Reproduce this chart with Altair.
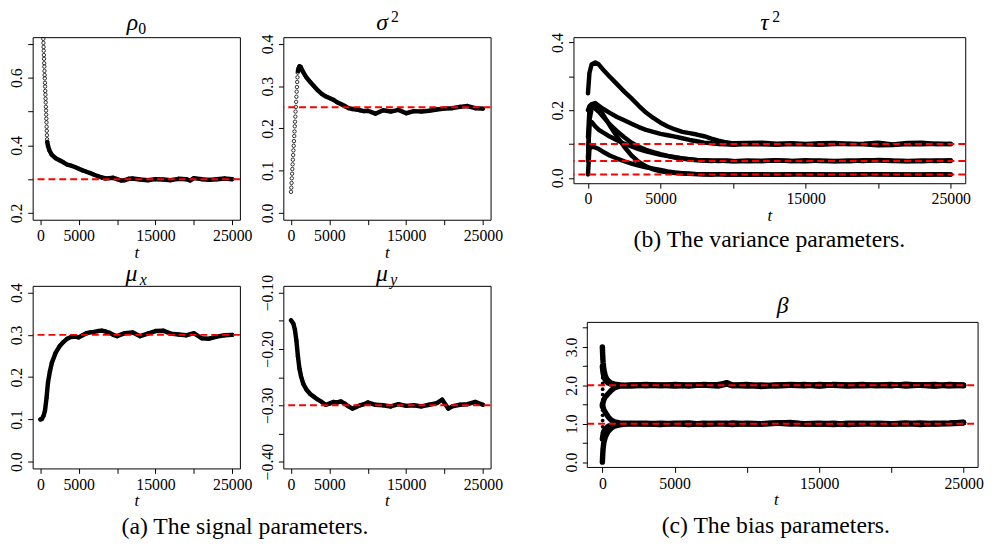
import json
import altair as alt
import pandas as pd

FONT = "Liberation Serif"
XDOM = [-1000, 26000]
XDOM_BETA = [-2000, 26000]
XTICKS = [0, 5000, 10000, 15000, 20000, 25000]
XSHOW = [0, 5000, 15000, 25000]

# ---------------- signal parameters ----------------
RHO0_EARLY_T = [380, 400, 420, 440, 460, 480, 500, 520, 540, 560, 580, 600, 620, 640, 660, 680, 700, 720, 740, 760, 780, 800, 820, 840, 860, 880]
RHO0_EARLY_V = [0.715, 0.703, 0.691, 0.680, 0.667, 0.656, 0.643, 0.633, 0.620, 0.608, 0.598, 0.585, 0.574, 0.561, 0.550, 0.538, 0.527, 0.514, 0.503, 0.491, 0.479, 0.468, 0.455, 0.443, 0.430, 0.418]
RHO0_T = [900, 1000, 1200, 1500, 2000, 2500, 3000, 3500, 4000, 4500, 5000, 5500, 6000, 6500, 7000, 7500, 8000, 8500, 9000, 9500, 10000, 10500, 11000, 11500, 12000, 13000, 14000, 15000, 16000, 17000, 18000, 19000, 19500, 20000, 21000, 22000, 23000, 24000, 25000]
RHO0_V = [0.410, 0.398, 0.384, 0.372, 0.362, 0.356, 0.350, 0.343, 0.340, 0.336, 0.331, 0.326, 0.322, 0.318, 0.313, 0.309, 0.305, 0.302, 0.303, 0.304, 0.300, 0.296, 0.297, 0.301, 0.302, 0.299, 0.297, 0.300, 0.299, 0.297, 0.301, 0.300, 0.296, 0.303, 0.300, 0.298, 0.300, 0.302, 0.300]

SIG2_EARLY_T = [0, 35, 70, 105, 140, 175, 210, 245, 280, 315, 350, 385, 420, 455, 490, 525, 560, 595, 630, 665, 700, 735, 770, 805, 840, 875]
SIG2_EARLY_V = [0.050, 0.060, 0.071, 0.082, 0.093, 0.104, 0.115, 0.126, 0.137, 0.148, 0.159, 0.170, 0.182, 0.193, 0.205, 0.216, 0.228, 0.240, 0.251, 0.263, 0.275, 0.287, 0.298, 0.310, 0.321, 0.332]
SIG2_T = [900, 1000, 1100, 1250, 1500, 2000, 2500, 3000, 3500, 4000, 4500, 5000, 5500, 6000, 6500, 7000, 7500, 8000, 8500, 9000, 9500, 10000, 11000, 12000, 13000, 14000, 15000, 16000, 17000, 18000, 19000, 20000, 21000, 22000, 23000, 24000, 25000]
SIG2_V = [0.336, 0.343, 0.347, 0.346, 0.336, 0.321, 0.310, 0.300, 0.290, 0.282, 0.276, 0.272, 0.268, 0.262, 0.258, 0.253, 0.248, 0.246, 0.245, 0.243, 0.241, 0.242, 0.235, 0.243, 0.240, 0.244, 0.236, 0.241, 0.240, 0.242, 0.245, 0.247, 0.248, 0.251, 0.253, 0.248, 0.247]

MUX_T = [0, 200, 400, 600, 800, 1000, 1250, 1500, 2000, 2500, 3000, 3500, 4000, 4500, 5000, 5500, 6000, 6500, 7000, 7500, 8000, 8500, 9000, 9500, 10000, 11000, 12000, 13000, 14000, 15000, 16000, 17000, 18000, 19000, 20000, 21000, 22000, 23000, 24000, 25000]
MUX_V = [0.100, 0.101, 0.108, 0.120, 0.150, 0.188, 0.214, 0.234, 0.258, 0.273, 0.283, 0.291, 0.295, 0.296, 0.294, 0.299, 0.304, 0.306, 0.307, 0.309, 0.310, 0.308, 0.305, 0.300, 0.297, 0.304, 0.306, 0.297, 0.303, 0.309, 0.310, 0.303, 0.301, 0.299, 0.304, 0.292, 0.291, 0.296, 0.299, 0.300]

MUY_T = [0, 300, 500, 700, 900, 1100, 1300, 1600, 2000, 2500, 3000, 3500, 4000, 4500, 5000, 5500, 6000, 6500, 7000, 7500, 8000, 8500, 9000, 9500, 10000, 11000, 12000, 13000, 14000, 15000, 16000, 17000, 18000, 19000, 19700, 20500, 21000, 22000, 23000, 24000, 25000]
MUY_V = [-0.149, -0.155, -0.165, -0.185, -0.213, -0.235, -0.248, -0.262, -0.272, -0.280, -0.285, -0.290, -0.294, -0.299, -0.297, -0.294, -0.295, -0.293, -0.297, -0.302, -0.306, -0.303, -0.300, -0.298, -0.295, -0.299, -0.300, -0.302, -0.298, -0.301, -0.300, -0.302, -0.299, -0.296, -0.290, -0.306, -0.302, -0.299, -0.298, -0.294, -0.299]

# ---------------- variance parameters ----------------
TAU_T = [0, 100, 250, 500, 750, 1000, 1500, 2000, 2500, 3000, 3500, 4000, 4500, 5000, 5500, 6000, 6500, 7000, 7500, 8000, 8500, 9000, 9500, 10000, 11000, 12000, 13000, 14000, 15000, 16000, 17000, 18000, 19000, 20000, 21000, 22000, 23000, 24000, 25000]
TAU_1 = [0.250, 0.310, 0.335, 0.341, 0.335, 0.322, 0.299, 0.277, 0.255, 0.235, 0.213, 0.193, 0.177, 0.163, 0.152, 0.143, 0.136, 0.132, 0.128, 0.123, 0.116, 0.110, 0.105, 0.102, 0.103, 0.104, 0.101, 0.102, 0.100, 0.102, 0.103, 0.100, 0.101, 0.104, 0.099, 0.103, 0.104, 0.100, 0.101]
TAU_2 = [0.200, 0.212, 0.218, 0.221, 0.213, 0.205, 0.192, 0.180, 0.170, 0.160, 0.150, 0.142, 0.136, 0.130, 0.126, 0.122, 0.117, 0.112, 0.108, 0.104, 0.102, 0.100, 0.099, 0.098, 0.100, 0.099, 0.098, 0.100, 0.099, 0.098, 0.100, 0.101, 0.099, 0.096, 0.097, 0.100, 0.099, 0.101, 0.099]
TAU_3 = [0.050, 0.170, 0.205, 0.215, 0.205, 0.190, 0.155, 0.122, 0.092, 0.066, 0.047, 0.034, 0.025, 0.019, 0.016, 0.014, 0.013, 0.012, 0.011, 0.011, 0.010, 0.011, 0.010, 0.010, 0.011, 0.010, 0.009, 0.010, 0.011, 0.010, 0.010, 0.009, 0.010, 0.011, 0.010, 0.010, 0.009, 0.010, 0.010]
TAU_4 = [0.060, 0.160, 0.165, 0.152, 0.142, 0.135, 0.122, 0.111, 0.101, 0.093, 0.085, 0.078, 0.073, 0.068, 0.064, 0.060, 0.057, 0.054, 0.052, 0.051, 0.050, 0.051, 0.050, 0.049, 0.051, 0.050, 0.052, 0.050, 0.049, 0.051, 0.050, 0.049, 0.052, 0.051, 0.050, 0.049, 0.051, 0.050, 0.052]
TAU_5 = [0.010, 0.085, 0.092, 0.090, 0.085, 0.078, 0.066, 0.057, 0.049, 0.042, 0.036, 0.031, 0.027, 0.023, 0.019, 0.016, 0.014, 0.012, 0.011, 0.010, 0.010, 0.011, 0.010, 0.010, 0.009, 0.010, 0.010, 0.011, 0.010, 0.010, 0.009, 0.010, 0.011, 0.010, 0.010, 0.009, 0.010, 0.011, 0.010]
TAU_6 = [0.120, 0.200, 0.212, 0.205, 0.195, 0.183, 0.158, 0.138, 0.120, 0.104, 0.092, 0.083, 0.076, 0.070, 0.065, 0.061, 0.057, 0.055, 0.053, 0.052, 0.051, 0.050, 0.051, 0.050, 0.049, 0.050, 0.051, 0.050, 0.052, 0.050, 0.049, 0.051, 0.050, 0.053, 0.051, 0.050, 0.049, 0.051, 0.050]

# ---------------- bias parameters ----------------
BETA_T = [0, 25, 50, 100, 200, 300, 400, 600, 850, 1200, 1600, 2000, 3000, 4000, 5000, 6000, 7000, 8000, 8600, 9000, 10000, 11000, 12000, 13000, 14000, 15000, 16000, 17000, 18000, 19000, 20000, 21000, 22000, 23000, 24000, 25000]
BETA_1 = [3.00, 2.75, 2.60, 2.42, 2.25, 2.17, 2.12, 2.06, 2.03, 2.01, 2.00, 2.01, 1.99, 2.01, 2.00, 1.98, 2.02, 2.00, 2.07, 2.01, 1.98, 1.99, 2.01, 2.00, 1.99, 2.02, 2.00, 1.98, 2.00, 2.01, 1.99, 2.03, 2.00, 1.98, 2.02, 2.00]
BETA_2 = [2.50, 2.40, 2.33, 2.24, 2.14, 2.09, 2.06, 2.03, 2.01, 2.00, 1.99, 1.98, 2.01, 1.99, 2.02, 2.00, 2.01, 1.98, 2.03, 2.00, 2.02, 1.97, 2.00, 2.02, 2.01, 1.98, 2.02, 2.01, 1.99, 2.00, 2.02, 1.98, 2.01, 2.02, 1.99, 2.01]
BETA_3 = [1.45, 1.50, 1.55, 1.62, 1.70, 1.74, 1.78, 1.86, 1.94, 1.98, 1.99, 2.00, 2.02, 2.00, 1.98, 2.01, 2.00, 2.02, 2.04, 1.99, 2.00, 2.01, 1.98, 2.00, 2.02, 1.99, 2.01, 2.00, 2.02, 1.99, 2.00, 2.00, 2.01, 1.99, 2.00, 1.99]
BETA_4 = [1.50, 1.46, 1.42, 1.37, 1.30, 1.24, 1.18, 1.10, 1.05, 1.02, 1.01, 1.00, 0.99, 1.01, 1.00, 0.98, 1.01, 1.00, 0.99, 1.02, 1.00, 0.99, 1.01, 1.02, 1.00, 0.99, 1.01, 0.98, 1.00, 1.01, 1.00, 0.99, 1.02, 1.00, 1.01, 1.03]
BETA_5 = [0.60, 0.66, 0.72, 0.80, 0.86, 0.90, 0.93, 0.96, 0.98, 0.99, 1.00, 1.01, 1.00, 0.98, 1.01, 1.00, 0.99, 1.01, 1.00, 0.98, 1.01, 1.00, 1.02, 0.99, 1.00, 1.01, 0.99, 1.00, 1.01, 0.99, 1.00, 1.01, 0.98, 1.01, 1.00, 1.02]
BETA_6 = [0.00, 0.20, 0.35, 0.50, 0.65, 0.73, 0.80, 0.88, 0.94, 0.97, 0.99, 1.00, 1.01, 0.99, 1.00, 1.02, 0.98, 1.00, 1.01, 1.00, 0.99, 1.00, 1.01, 1.03, 0.99, 1.00, 0.98, 1.01, 1.00, 1.00, 0.99, 1.01, 1.00, 0.99, 1.01, 1.04]
BETA_START_T = [20, 20, 20, 20, 20, 20, 20, 20, 20, 20, 20, 20, 20, 20, 20, 20, 20, 20, 20]
BETA_START_V = [0.05, 0.18, 0.32, 0.47, 0.63, 0.78, 0.92, 1.08, 1.22, 1.35, 1.62, 1.76, 1.90, 2.05, 2.20, 2.36, 2.52, 2.68, 2.84]

ONE = pd.DataFrame({"k": [0]})


def series_df(pairs):
    rows = []
    for sid, (ts, vs) in enumerate(pairs):
        for t, v in zip(ts, vs):
            rows.append({"t": t, "v": v, "s": sid})
    return pd.DataFrame(rows, columns=["t", "v", "s"])


def lab_expr(shown):
    return "indexof(" + json.dumps(shown) + ", datum.value) >= 0 ? datum.label : ''"


def panel(line_df, pt_df, refs, ydom, yvals, yshow, yfmt, w, h, pieces, title_y,
          lw=4.5, ptsize=12, filled=False, caption=None, inset=0, xdom=XDOM):
    # inset > 0: the drawn frame starts `inset` px right of the view's left edge
    x = alt.X("t:Q", scale=alt.Scale(domain=xdom, nice=False, zero=False),
              axis=alt.Axis(values=XTICKS, format="d", labelExpr=lab_expr(XSHOW), title="t",
                            titlePadding=1))
    yax = dict(values=yvals, format=yfmt, labelExpr=lab_expr(yshow), labelAngle=270, title=None)
    if inset:
        yax["offset"] = -inset
    y = alt.Y("v:Q", scale=alt.Scale(domain=ydom, nice=False, zero=False), axis=alt.Axis(**yax))
    layers = []
    if line_df is not None:
        layers.append(alt.Chart(line_df).mark_line(color="black", strokeWidth=lw, clip=True,
                                                   strokeCap="round", strokeJoin="round")
                      .encode(x=x, y=y, detail="s:N"))
    if pt_df is not None:
        layers.append(alt.Chart(pt_df).mark_point(shape="circle", filled=filled, color="black",
                                                  size=ptsize, strokeWidth=0.8, opacity=1, clip=True)
                      .encode(x=x, y=y))
    rule_enc = dict(y=y)
    if inset:
        rule_enc.update(x=alt.value(inset), x2=alt.value(w))
    layers.append(alt.Chart(pd.DataFrame({"v": refs})).mark_rule(color="#FF0000", strokeWidth=2,
                                                                 strokeDash=[7, 4])
                  .encode(**rule_enc))
    if inset:
        layers.append(alt.Chart(ONE).mark_rect(fillOpacity=0, stroke="black", strokeWidth=1)
                      .encode(x=alt.value(inset), x2=alt.value(w), y=alt.value(0), y2=alt.value(h)))
    cx = (w + inset) / 2
    for text, dx, dy, size, italic in pieces:
        layers.append(alt.Chart(ONE).mark_text(text=text, font=FONT, fontSize=size,
                                               fontStyle="italic" if italic else "normal",
                                               baseline="alphabetic", align="center",
                                               dx=dx, dy=dy, color="black")
                      .encode(x=alt.value(cx), y=alt.value(title_y)))
    props = dict(width=w, height=h)
    if caption is not None:
        props["title"] = caption
    if inset:
        props["view"] = alt.ViewBackground(stroke="transparent")
    return alt.layer(*layers).properties(**props)


def cap(text, offset, dx=0):
    return alt.TitleParams(text=text, orient="bottom", anchor="middle", font=FONT, fontSize=24,
                           fontWeight="normal", color="black", offset=offset, dx=dx)


W_S, H_S = 210, 185

rho = panel(series_df([(RHO0_T, RHO0_V)]),
            series_df([(RHO0_EARLY_T, RHO0_EARLY_V), (RHO0_T, RHO0_V)]),
            [0.3], [0.18, 0.72], [0.2, 0.3, 0.4, 0.5, 0.6, 0.7], [0.2, 0.4, 0.6], ".1f",
            W_S, H_S, [("ρ", -4, 0, 24, True), ("0", 6, 4, 16, False)], -7)
sig = panel(series_df([(SIG2_T, SIG2_V)]),
            series_df([(SIG2_EARLY_T, SIG2_EARLY_V), (SIG2_T, SIG2_V)]),
            [0.25], [-0.016, 0.416], [0.0, 0.1, 0.2, 0.3, 0.4], [0.0, 0.1, 0.2, 0.3, 0.4], ".1f",
            W_S, H_S, [("σ", -5, 0, 24, True), ("2", 8, -8, 16, False)], -7)
mux = panel(series_df([(MUX_T, MUX_V)]), series_df([(MUX_T, MUX_V)]),
            [0.3], [-0.016, 0.416], [0.0, 0.1, 0.2, 0.3, 0.4], [0.0, 0.1, 0.2, 0.3, 0.4], ".1f",
            W_S, H_S, [("μ", -5, 0, 24, True), ("x", 7, 4, 16, True)], -5)
muy = panel(series_df([(MUY_T, MUY_V)]), series_df([(MUY_T, MUY_V)]),
            [-0.3], [-0.412, -0.088], [-0.4, -0.35, -0.3, -0.25, -0.2, -0.15, -0.1],
            [-0.4, -0.3, -0.2, -0.1], ".2f",
            W_S, H_S, [("μ", -5, 0, 24, True), ("y", 7, 4, 16, True)], -5)

tau = panel(series_df([(TAU_T, TAU_1), (TAU_T, TAU_2), (TAU_T, TAU_3), (TAU_T, TAU_4),
                       (TAU_T, TAU_5), (TAU_T, TAU_6)]), None,
            [0.1, 0.05, 0.01], [-0.016, 0.416], [0.0, 0.1, 0.2, 0.3, 0.4], [0.0, 0.2, 0.4], ".1f",
            397, 148, [("τ", -5, 0, 24, True), ("2", 7, -8, 16, False)], -7,
            lw=4.5, caption=cap("(b) The variance parameters.", 5, 0))
beta = panel(series_df([(BETA_T, BETA_1), (BETA_T, BETA_2), (BETA_T, BETA_3), (BETA_T, BETA_4),
                        (BETA_T, BETA_5), (BETA_T, BETA_6)]),
             series_df([(BETA_START_T, BETA_START_V)]),
             [1.0, 2.0], [-0.14, 3.64], [0.0, 0.5, 1.0, 1.5, 2.0, 2.5, 3.0, 3.5], [0.0, 1.0, 2.0, 3.0],
             ".1f", 410, 147, [("β", 0, 0, 24, True)], -10,
             lw=5.5, ptsize=14, filled=True, caption=cap("(c) The bias parameters.", 6, 0),
             inset=14, xdom=XDOM_BETA)

left = alt.vconcat(alt.hconcat(rho, sig, spacing=6), alt.hconcat(mux, muy, spacing=6),
                   spacing=0, title=cap("(a) The signal parameters.", 6, -11))
right = alt.vconcat(tau, beta, spacing=40)

chart = alt.hconcat(left, right, spacing=46).properties(
    padding={"left": 0, "top": -3, "right": 0, "bottom": 0}
).configure_axis(
    labelFont=FONT, labelFontSize=16, labelColor="black", titleFont=FONT, titleFontSize=17,
    titleFontStyle="italic", titleFontWeight="normal", titleColor="black", tickColor="black",
    tickSize=5, tickWidth=1, domain=False, grid=False, labelPadding=3,
    labelFlush=False, labelOverlap=False
).configure_view(stroke="black", strokeWidth=1)

chart.save("out.html", embed_options={"renderer": "svg", "actions": False})
